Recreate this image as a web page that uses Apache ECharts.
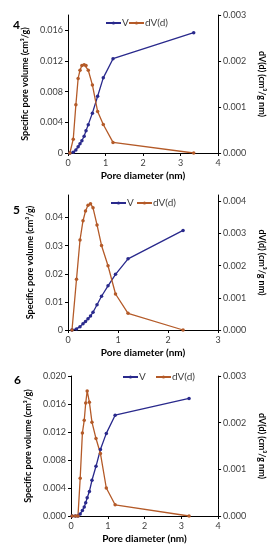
<!DOCTYPE html>
<html><head><meta charset="utf-8">
<script src="https://cdn.jsdelivr.net/npm/echarts@6/dist/echarts.min.js"></script>
<style>html,body{margin:0;padding:0;background:#fff}#c{width:274px;height:550px}</style>
</head><body><div id="c"></div>
<script>
// Panel 4
const d4 = [0.05, 0.14, 0.21, 0.27, 0.32, 0.37, 0.43, 0.48, 0.54, 0.65, 0.79, 0.94, 1.2, 3.35];
const v4 = [0, 0.0001, 0.0004, 0.0008, 0.0012, 0.0016, 0.0022, 0.0029, 0.0037, 0.0052, 0.0074, 0.0098, 0.0123, 0.0157];
const dv4 = [0, 0.0003, 0.00105, 0.00162, 0.0018, 0.0019, 0.00192, 0.0019, 0.0018, 0.00148, 0.0009, 0.00062, 0.00023, 0];
// Panel 5
const d5 = [0.08, 0.17, 0.24, 0.3, 0.35, 0.4, 0.45, 0.5, 0.58, 0.67, 0.8, 0.95, 1.2, 2.3];
const v5 = [0, 0.0004, 0.0012, 0.0022, 0.003, 0.004, 0.005, 0.0063, 0.009, 0.012, 0.0157, 0.0198, 0.0253, 0.0354];
const dv5 = [0, 0.00158, 0.0028, 0.0034, 0.0037, 0.00388, 0.00393, 0.0038, 0.00327, 0.00263, 0.002, 0.00112, 0.00052, 0];
// Panel 6
const d6 = [0.03, 0.12, 0.19, 0.25, 0.31, 0.36, 0.4, 0.44, 0.5, 0.57, 0.68, 0.8, 0.96, 1.2, 3.21];
const v6 = [0, 0, 0, 0.0003, 0.0008, 0.0013, 0.0019, 0.0026, 0.0035, 0.0051, 0.0071, 0.0095, 0.0118, 0.0144, 0.0168];
const dv6 = [0, 0, 0, 0.00081, 0.00178, 0.00205, 0.00242, 0.00268, 0.00244, 0.00201, 0.00166, 0.00134, 0.0006, 0.00024, 0];

// Tick labels
const xTicks4 = [0, 1, 2, 3, 4];
const yTicks4 = [0, 0.004, 0.008, 0.012, 0.016];
const rTicks4 = [0, 0.001, 0.002, 0.003];
const xTicks5 = [0, 1, 2, 3];
const yTicks5 = [0, 0.01, 0.02, 0.03, 0.04];
const rTicks5 = [0, 0.001, 0.002, 0.003, 0.004];
const xTicks6 = [0, 1, 2, 3, 4];
const yTicks6 = [0, 0.004, 0.008, 0.012, 0.016, 0.020];
const rTicks6 = [0, 0.001, 0.002, 0.003];

const panelLabels = ['4', '5', '6'];
const seriesNames = ['V', 'dV(d)'];
const xTitle = 'Pore diameter (nm)';
const yTitle = 'Specific pore volume (cm³/g)';
const rTitle = 'dV(d) (cm³/g nm)';

const FONT = 'Lato';
const VCOL = '#29298c';
const DCOL = '#b45a28';
const AXCOL = '#000';
const LBLCOL = '#404040';

function pairs(xs, ys) { return xs.map((x, i) => [x, ys[i]]); }

const grids = [
  {left: 68, top: 15, width: 155, height: 138},
  {left: 68, top: 195, width: 157, height: 135},
  {left: 71, top: 376, width: 150, height: 140}
];
const panels = [
  {x: xTicks4, y: yTicks4, r: rTicks4, xmax: 4, ymax: 0.018, rmax: 0.003, yfmt: v => String(v), d: d4, v: v4, dv: dv4,
   leg: [105, 128], legTop: 18},
  {x: xTicks5, y: yTicks5, r: rTicks5, xmax: 3, ymax: 0.048, rmax: 0.0042, yfmt: v => String(v), d: d5, v: v5, dv: dv5,
   leg: [110, 136], legTop: 198},
  {x: xTicks6, y: yTicks6, r: rTicks6, xmax: 4, ymax: 0.020, rmax: 0.003, yfmt: v => (+v).toFixed(3), d: d6, v: v6, dv: dv6,
   leg: [122, 155], legTop: 372}
];

const xAxis = [], yAxis = [], series = [], legend = [];
const axisLine = {show: true, lineStyle: {color: AXCOL, width: 1}};
const tickStyle = {lineStyle: {color: AXCOL, width: 1}, length: 3};
const lblStyle = {color: LBLCOL, fontSize: 9, fontFamily: FONT};
const xNameStyle = {color: '#000', fontSize: 10, fontWeight: 'bold', fontFamily: FONT};
const yNameStyle = {color: '#000', fontSize: 9, fontWeight: 'bold', fontFamily: FONT};

panels.forEach((p, i) => {
  xAxis.push({
    type: 'value', gridIndex: i, min: 0, max: p.xmax, interval: 1,
    axisLine: axisLine, axisTick: Object.assign({show: true}, tickStyle),
    axisLabel: Object.assign({margin: 6}, lblStyle),
    splitLine: {show: false},
    name: xTitle, nameLocation: 'middle', nameGap: 18, nameTextStyle: xNameStyle
  });
  yAxis.push({
    type: 'value', gridIndex: i, min: 0, max: p.ymax, position: 'left',
    axisLine: axisLine,
    axisTick: Object.assign({show: true, customValues: p.y}, tickStyle),
    axisLabel: Object.assign({margin: 5, customValues: p.y, formatter: p.yfmt}, lblStyle),
    splitLine: {show: false},
    name: yTitle, nameLocation: 'middle', nameGap: 27, nameTextStyle: yNameStyle
  });
  yAxis.push({
    type: 'value', gridIndex: i, min: 0, max: p.rmax, position: 'right',
    axisLine: axisLine,
    axisTick: Object.assign({show: true, customValues: p.r}, tickStyle),
    axisLabel: Object.assign({margin: 5, customValues: p.r, formatter: v => (+v).toFixed(3)}, lblStyle),
    splitLine: {show: false},
    name: rTitle, nameLocation: 'middle', nameGap: 36, nameRotate: -90, nameTextStyle: yNameStyle
  });
  series.push({
    name: seriesNames[0], type: 'line', xAxisIndex: i, yAxisIndex: 2 * i, data: pairs(p.d, p.v),
    symbol: 'circle', symbolSize: 3.5, lineStyle: {color: VCOL, width: 1.3},
    itemStyle: {color: VCOL}, animation: false
  });
  series.push({
    name: seriesNames[1], type: 'line', xAxisIndex: i, yAxisIndex: 2 * i + 1, data: pairs(p.d, p.dv),
    symbol: 'circle', symbolSize: 3.5, lineStyle: {color: DCOL, width: 1.3},
    itemStyle: {color: DCOL}, animation: false
  });
  seriesNames.forEach((nm, k) => {
    legend.push({
      data: [nm], left: p.leg[k], top: p.legTop, padding: 0,
      itemWidth: 15, itemHeight: 4,
      textStyle: {color: LBLCOL, fontSize: 10, fontFamily: FONT, padding: [0, 0, 0, -4]}
    });
  });
});

const title = [
  {text: panelLabels[0], left: 8, top: 14},
  {text: panelLabels[1], left: 8, top: 199},
  {text: panelLabels[2], left: 9, top: 369}
].map(t => Object.assign(t, {textStyle: {fontSize: 12, fontWeight: 'bold', color: '#000', fontFamily: FONT}}));

const chart = echarts.init(document.getElementById('c'), null, {renderer: 'canvas'});
chart.setOption({
  animation: false,
  backgroundColor: '#fff',
  title: title,
  legend: legend,
  grid: grids,
  xAxis: xAxis,
  yAxis: yAxis,
  series: series
});
</script></body></html>
